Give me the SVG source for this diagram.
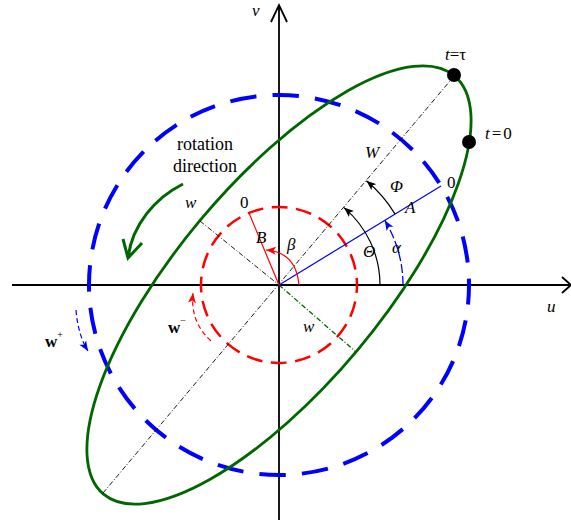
<svg xmlns="http://www.w3.org/2000/svg" width="571" height="525" viewBox="0 0 571 525">
<style>
text{font-family:"Liberation Serif","Times New Roman",serif;font-size:17px;fill:#000}
.i{font-style:italic}
.b{font-weight:bold}
.ax{stroke:#000;stroke-width:1.8;fill:none}
.dd{stroke:#000;stroke-width:0.9;stroke-dasharray:5 2 1 2;fill:none}
</style>
<defs>
<marker id="ak" markerUnits="userSpaceOnUse" markerWidth="10" markerHeight="8" viewBox="0 0 10 8" refX="10" refY="4" orient="auto"><path d="M0,0 L10,4 L0,8 L2.5,4 z" fill="#000"/></marker>
<marker id="ab" markerUnits="userSpaceOnUse" markerWidth="10" markerHeight="8" viewBox="0 0 10 8" refX="10" refY="4" orient="auto"><path d="M0,0 L10,4 L0,8 L2.5,4 z" fill="#0000ff"/></marker>
<marker id="ar" markerUnits="userSpaceOnUse" markerWidth="10" markerHeight="8" viewBox="0 0 10 8" refX="10" refY="4" orient="auto"><path d="M0,0 L10,4 L0,8 L2.5,4 z" fill="#ff0000"/></marker>
</defs>
<g id="axes">
<path class="ax" d="M12,285 H570 M562,277 L571,285 L562,293"/>
<path class="ax" d="M279,520 V5 M271,22 L279,5 L287,22"/>
</g>
<g id="blue-circle"><circle cx="279" cy="285" r="190" fill="none" stroke="#0000ff" stroke-width="4" stroke-dasharray="26.5 16.14" stroke-dashoffset="7"/></g>
<g id="red-circle"><circle cx="279" cy="285" r="78" fill="none" stroke="#ff0000" stroke-width="2.5" stroke-dasharray="16 8.5" stroke-dashoffset="7.9"/></g>
<g id="ellipse"><ellipse cx="279" cy="285" rx="273" ry="102" transform="rotate(-50 279 285)" fill="none" stroke="#006600" stroke-width="2.8"/></g>
<g id="connectors">
<path class="dd" d="M103,493 L455,75"/>
<path class="dd" d="M200,221 L279,285"/>
<path d="M279,285 L356,352" fill="none" stroke="#006600" stroke-width="1.3" stroke-dasharray="5 2 1 2"/>
<path d="M279,285 L441,186" stroke="#0000ff" stroke-width="1.2" fill="none"/>
<path d="M279,285 L249,213" stroke="#ff0000" stroke-width="1.2" fill="none"/>
<path d="M380,285 A101,101 0 0 0 343.9,207.6" fill="none" stroke="#000" stroke-width="1.2" marker-end="url(#ak)"/>
<path d="M395.1,214.1 A136,136 0 0 0 366.4,180.8" fill="none" stroke="#000" stroke-width="1.2" marker-end="url(#ak)"/>
<path d="M403,285 A124,124 0 0 0 384.8,220.4" fill="none" stroke="#0000ff" stroke-width="1.3" stroke-dasharray="9 3" marker-end="url(#ab)"/>
<path d="M299,285 Q296,252 266,250" fill="none" stroke="#ff0000" stroke-width="1.2" marker-end="url(#ar)"/>
<path d="M211,341 Q190,322 193,293" fill="none" stroke="#ff0000" stroke-width="1.2" stroke-dasharray="5 3" marker-end="url(#ar)"/>
<path d="M76,310 Q78,335 88,351" fill="none" stroke="#0000ff" stroke-width="1.2" stroke-dasharray="5 3" marker-end="url(#ab)"/>
<path d="M183,184 C155,198 132,225 128,258 M123,239 L128,258 L142,243" fill="none" stroke="#006600" stroke-width="3"/>
</g>
<g id="points">
<circle cx="454" cy="75" r="7" fill="#000"/>
<circle cx="469" cy="142" r="7" fill="#000"/>
</g>
<g id="labels">
<text class="i" x="252" y="16">v</text>
<text class="i" x="547" y="312">u</text>
<text x="445" y="60"><tspan class="i">t</tspan>=τ</text>
<text x="485" y="139"><tspan class="i">t</tspan><tspan dx="2">=</tspan><tspan dx="2">0</tspan></text>
<text class="i" x="365" y="158">W</text>
<text class="i" x="390" y="192">Φ</text>
<text x="447" y="188">0</text>
<text class="i" x="405" y="213">A</text>
<text class="i" x="363" y="257">Θ</text>
<text class="i" x="392" y="253">α</text>
<text class="i" x="287" y="250">β</text>
<text class="i" x="185" y="208">w</text>
<text x="240" y="208">0</text>
<text class="i" x="256" y="243">B</text>
<text class="i" x="303" y="332">w</text>
<text x="205" y="150" text-anchor="middle" style="font-size:18px">rotation</text>
<text x="205" y="172" text-anchor="middle" style="font-size:18px">direction</text>
<text x="45" y="347"><tspan class="b">w</tspan><tspan dy="-9" style="font-size:10px">+</tspan></text>
<text x="168" y="333"><tspan class="b">w</tspan><tspan dy="-9" style="font-size:10px">−</tspan></text>
</g>
</svg>
